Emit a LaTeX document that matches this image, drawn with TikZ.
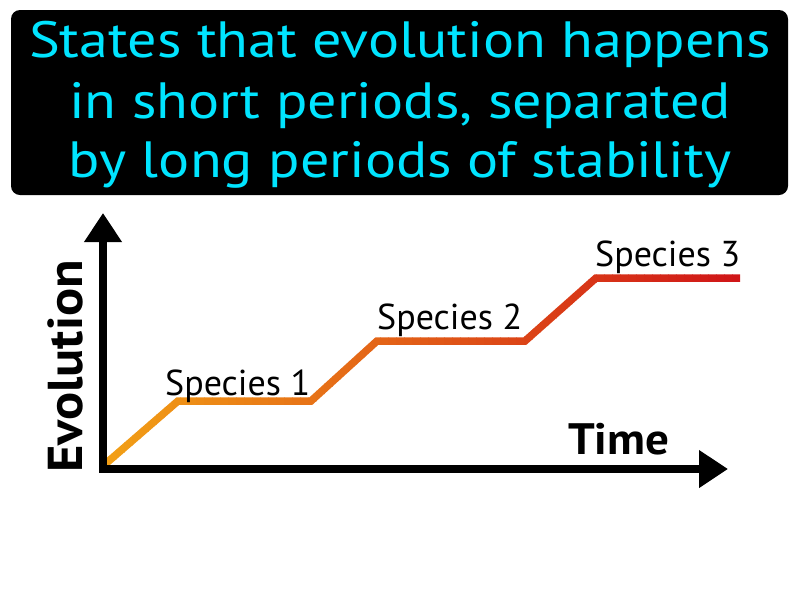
\documentclass[tikz,border=0pt]{standalone}
\usepackage{fontspec}
\setmainfont{PT Sans}
\newfontfamily\titlefont{PT Sans}[FakeStretch=1.14]
\newfontfamily\axisfont{PT Sans Bold}[FakeStretch=1.07]
\usetikzlibrary{arrows.meta}
\definecolor{titlecyan}{RGB}{0,228,255}
\definecolor{gstart}{RGB}{242,160,22}
\definecolor{gend}{RGB}{208,22,24}
\tikzset{
  titletext/.style={text=titlecyan, font=\titlefont\fontsize{51}{60}\selectfont, anchor=base, inner sep=0pt},
  specieslabel/.style={font=\fontsize{36}{40}\selectfont, anchor=base west, inner sep=0pt},
  axislabel/.style={inner sep=0pt},
  axisline/.style={line width=8pt, line join=miter, -{Triangle[length=29pt,width=36pt]}},
  evoline/.style={line width=7.5pt, line join=miter}
}
\begin{document}
\begin{tikzpicture}[x=1pt,y=-1pt]
\useasboundingbox (0,0) rectangle (800,600);
% title box
\fill[black, rounded corners=9pt] (11,10) rectangle (788,195);
\node[titletext] (t1) at (400,57) {States that evolution happens};
\node[titletext] (t2) at (400,118) {in short periods, separated};
\node[titletext] (t3) at (400,177) {by long periods of stability};
% points
\coordinate (p0) at (103,466);
\coordinate (p1) at (178,401);
\coordinate (p2) at (311,401);
\coordinate (p3) at (377,341);
\coordinate (p4) at (525,341);
\coordinate (p5) at (596,278);
\coordinate (p6) at (740,278);
% gradient line via slices
\foreach \i in {0,...,79}{
  \pgfmathsetmacro{\xa}{100+8*\i}
  \pgfmathsetmacro{\xb}{\xa+8.6}
  \pgfmathsetmacro{\pc}{100-100*\i/79}
  \begin{scope}
    \clip (\xa,200) rectangle (\xb,480);
    \draw[evoline, color=gstart!\pc!gend] (p0) -- (p1) -- (p2) -- (p3) -- (p4) -- (p5) -- (p6);
  \end{scope}
}
% axes
\coordinate (ytip) at (103,213);
\coordinate (origin) at (103,469);
\coordinate (xtip) at (728,469);
\draw[axisline] (origin) -- (ytip);
\draw[axisline] (origin) -- (xtip);
\fill[black] (99,465) rectangle (107,473);
% labels
\node[specieslabel] (s1) at (165,395) {Species 1};
\node[specieslabel] (s2) at (377,329) {Species 2};
\node[specieslabel] (s3) at (595,266) {Species 3};
\node[axislabel, font=\axisfont\fontsize{44}{48}\selectfont, anchor=base west] (time) at (568,454) {Time};
\node[axislabel, font=\axisfont\fontsize{49}{52}\selectfont, anchor=base west, rotate=90] (evo) at (82,473) {Evolution};
\end{tikzpicture}
\end{document}
